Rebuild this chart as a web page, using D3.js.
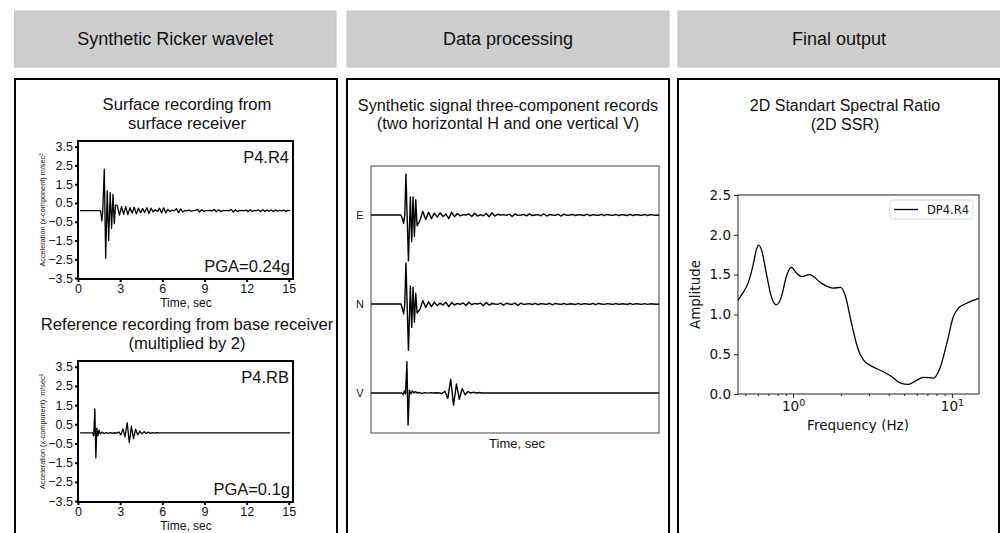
<!DOCTYPE html>
<html>
<head>
<meta charset="UTF-8" />
<title>Synthetic Ricker wavelet - SSR</title>
<script src="https://cdn.jsdelivr.net/npm/d3@7"></script>
<style>
    body { margin: 0; background: #fff; }
    svg text { font-family: 'Liberation Sans', Arial, sans-serif; fill: #111; }
    .mpl text { font-family: 'DejaVu Sans', sans-serif; }
</style>
</head>
<body>
<svg id="fig" width="1000" height="533"></svg>
<script>
// ---- data ----
var headers = ["Synthetic Ricker wavelet", "Data processing", "Final output"];
var timeTicks = [0, 3, 6, 9, 12, 15];
var accTicks = [3.5, 2.5, 1.5, 0.5, -0.5, -1.5, -2.5, -3.5];
var components = ["E", "N", "V"];
var ssrTicks = [0, 0.5, 1, 1.5, 2, 2.5];
var freqMajor = [1, 10];
var freqMinor = [0.5, 0.6, 0.7, 0.8, 0.9, 2, 3, 4, 5, 6, 7, 8, 9];

var tailStep = 0.15;   // sample spacing of the coda, sec

// surface record P4.R4 (m/sec^2)
var surfHead = [[0.15,0.09],[1.6,0.09],[1.66,-0.2],[1.7,-0.45],[1.76,0.05],[1.87,2.3],[1.97,-2.45],[2.08,1.15],[2.18,-1.5],
    [2.29,1.05],[2.39,-0.85],[2.49,0.95],[2.58,-0.6],[2.67,0.4]];
var surfTailStart = 2.8;
var surfTail = [0.35,-0.15,0.3,-0.1,0.32,-0.12,0.25,-0.05,0.28,-0.08,0.22,-0.02,
    0.2,0.0,0.25,-0.06,0.22,0.02,0.14,0.04,0.22,-0.04,0.24,-0.02,
    0.16,0.04,0.12,0.08,0.2,-0.02,0.18,0.02,0.1,0.08,0.12,0.06,
    0.09,0.1,0.16,0.02,0.14,0.05,0.09,0.09,0.1,0.08,0.15,0.03,
    0.14,0.04,0.09,0.09,0.1,0.08,0.16,0.02,0.14,0.05,0.09,0.1,
    0.08,0.12,0.04,0.14,0.05,0.1,0.09,0.13,0.04,0.14,0.05,0.12,
    0.06,0.13,0.05,0.12,0.07,0.1,0.08,0.12,0.05,0.11,0.08];
var surfEnd = [];

// base record P4.RB (x2)
var baseHead = [[0.15,0.05],[1.05,0.05],[1.12,-0.1],[1.2,1.3],[1.27,-1.25],[1.34,0.3],[1.42,-0.1],[1.5,0.2],[1.58,0.0]];
var baseTailStart = 1.7;
var baseTail = [0.09,0.02,0.07,0.03,0.06,0.04,0.06,0.04,0.1,-0.05,0.25,-0.15,0.58,-0.45,0.4,-0.25,
    0.25,-0.05,0.15,0.0,0.12,0.02,0.09,0.03,0.07,0.04,0.06,0.05];
var baseEnd = [[15.1,0.05]];

// three-component synthetic records
var eHead = [[0,0],[1.55,0],[1.62,-0.15],[1.7,-0.46],[1.76,0.0],[1.82,2.28],[1.95,-2.55],[2.05,1.0],[2.12,-1.48],
    [2.19,1.0],[2.26,-1.2],[2.33,0.85],[2.4,-0.6]];
var eTailStart = 2.55;
var eTail = [-0.3,0.2,-0.25,0.15,-0.2,0.1,-0.12,0.12,-0.08,0.05,-0.2,0.15,
    -0.1,0.08,-0.05,0.02,0.0,0.06,-0.08,0.1,-0.06,0.02,-0.04,0.08,
    -0.1,0.12,-0.06,0.04,0.0,0.02,-0.02,0.05,-0.08,0.06,-0.02,0.0,
    0.03,-0.05,0.06,-0.03,0.0,0.02,-0.04,0.07,-0.06,0.03,0.0,-0.02,
    0.04,-0.06,0.05,-0.02,0.0,0.03,-0.03,0.02,0.0,-0.03,0.05,-0.04,
    0.02,0.0,-0.02,0.04,-0.04,0.03,0.0,-0.02,0.03,-0.03,0.02,0.0,
    -0.03,0.04,-0.03,0.02,0.0,-0.02,0.03,-0.03,0.02,0.0,-0.01,0.0];
var eEnd = [[15,0]];

var nHead = [[0,0],[1.55,0],[1.62,-0.2],[1.7,-0.55],[1.76,0.0],[1.82,2.28],[1.95,-2.57],[2.05,1.0],[2.12,-1.3],
    [2.19,0.93],[2.26,-1.0],[2.33,0.6],[2.4,-0.5]];
var nTailStart = 2.55;
var nTail = [-0.3,0.2,-0.2,0.12,-0.15,0.1,-0.08,0.05,-0.06,0.1,-0.15,0.08,
    -0.05,0.03,-0.02,0.06,-0.08,0.1,-0.04,0.03,0.0,0.05,-0.1,0.08,
    -0.06,0.03,0.0,-0.02,0.05,-0.06,0.04,0.0,-0.03,0.06,-0.08,0.05,
    -0.02,0.0,0.02,-0.03,0.04,-0.04,0.02,0.0,-0.02,0.04,-0.05,0.03,
    0.0,-0.02,0.03,-0.03,0.01,0.0,-0.03,0.04,-0.03,0.02,0.0,-0.02,
    0.03,-0.04,0.03,0.0,-0.02,0.02,0.0,-0.03,0.03,-0.02,0.01,0.0,
    -0.02,0.03,-0.03,0.02,0.0,-0.02,0.02,-0.02,0.01,0.0,-0.01,0.0];
var nEnd = [[15,0]];

var vHead = [[0,0],[1.6,0],[1.68,-0.08],[1.74,0.12],[1.8,-0.05],[1.87,1.74],[1.93,-1.78],[2.0,0.15],[2.08,-0.05],
    [2.16,0.12],[2.24,0.0],[2.32,0.08],[2.4,0.0]];
var vTailStart = 2.5;
var vTail = [0.03,-0.02,0.02,-0.01,0.02,0.0,0.01,0.0,-0.03,0.1,-0.3,0.76,-0.67,0.5,-0.35,0.25,-0.1,0.08,
    0.0,0.04,0.0,0.03,0.0];
var vEnd = [[15,0]];

// 2D SSR curve
var ssrFreq = [0.45,0.483,0.52,0.56,0.587,0.607,0.637,0.678,0.73,0.785,0.844,0.908,0.976,1.05,1.13,1.27,1.51,1.79,
    1.99,2.12,2.33,2.57,2.77,3.12,3.7,4.17,4.72,5.32,5.86,6.62,7.66,8.42,9.29,10.2,11.0,12.4,14.8];
var ssrAmp = [1.18,1.27,1.39,1.62,1.81,1.87,1.79,1.52,1.22,1.12,1.22,1.48,1.59,1.52,1.475,1.5,1.39,1.33,
    1.34,1.25,0.89,0.556,0.43,0.35,0.28,0.22,0.14,0.12,0.16,0.21,0.2,0.33,0.64,0.97,1.08,1.14,1.2];

function trace(head, start, tail, end) {
    return head.concat(tail.map(function(a, i) { return [start + i * tailStep, a]; }), end);
}

var svg = d3.select("#fig");

// ---- header boxes and panels ----
var colX = [[14.5, 336], [347, 669], [678, 1001]];
colX.forEach(function(c, i) {
    svg.append("rect").attr("x", c[0]).attr("y", 11).attr("width", c[1] - c[0]).attr("height", 56)
        .attr("fill", "#cecece").attr("stroke", "#c3c3c3");
    svg.append("text").attr("x", (c[0] + Math.min(c[1], 1000)) / 2).attr("y", 45)
        .attr("text-anchor", "middle").attr("font-size", 18).text(headers[i]);
});
var panX = [[15, 337], [347, 669], [678, 999]];
panX.forEach(function(c) {
    svg.append("rect").attr("x", c[0]).attr("y", 79).attr("width", c[1] - c[0]).attr("height", 480)
        .attr("fill", "#fff").attr("stroke", "#000").attr("stroke-width", 2);
});

// ---- left panel: acceleration records ----
function accPlot(top, bottom, title, ylab, pts, name, pga) {
    var x = d3.scaleLinear().domain([0, 15.3]).range([78, 293]);
    var y = d3.scaleLinear().domain([-3.55, 3.8]).range([bottom, top]);
    var g = svg.append("g");

    title.forEach(function(t, i) {
        g.append("text").attr("x", 187).attr("y", top - 31 + i * 18.5)
            .attr("text-anchor", "middle").attr("font-size", 16.6).text(t);
    });

    var line = d3.line().x(function(d) { return x(d[0]); }).y(function(d) { return y(d[1]); });
    g.append("path").datum(pts).attr("d", line).attr("fill", "none")
        .attr("stroke", "#000").attr("stroke-width", 1.3).attr("stroke-linejoin", "round");

    var ya = g.append("g").attr("transform", "translate(78,0)")
        .call(d3.axisLeft(y).tickValues(accTicks).tickSize(3).tickPadding(2).tickFormat(d3.format(".1f")));
    var xa = g.append("g").attr("transform", "translate(0," + bottom + ")")
        .call(d3.axisBottom(x).tickValues(timeTicks).tickSize(3).tickPadding(2));
    [ya, xa].forEach(function(a) {
        a.select(".domain").remove();
        a.selectAll("line").attr("stroke", "#000").attr("stroke-width", 2);
        a.selectAll("text").attr("font-size", 12.5).attr("fill", "#111")
            .style("font-family", "'Liberation Sans', Arial, sans-serif");
    });

    g.append("rect").attr("x", 78).attr("y", top).attr("width", 215).attr("height", bottom - top)
        .attr("fill", "none").attr("stroke", "#000").attr("stroke-width", 2);

    g.append("text").attr("x", 289).attr("y", top + 22).attr("text-anchor", "end")
        .attr("font-size", 16.5).text(name);
    g.append("text").attr("x", 290).attr("y", bottom - 7).attr("text-anchor", "end")
        .attr("font-size", 16.5).text(pga);

    g.append("text").attr("transform", "translate(45," + ((top + bottom) / 2) + ") rotate(-90)")
        .attr("text-anchor", "middle").attr("font-size", 7.3).attr("fill", "#333").text(ylab);
    g.append("text").attr("x", 186).attr("y", bottom + 28).attr("text-anchor", "middle")
        .attr("font-size", 12).text("Time, sec");
}

accPlot(141, 279, ["Surface recording from", "surface receiver"],
    "Acceleration (x-component) m/sec\u00b2", trace(surfHead, surfTailStart, surfTail, surfEnd), "P4.R4", "PGA=0.24g");
accPlot(361, 502, ["Reference recording from base receiver", "(multiplied by 2)"],
    "Acceleration (x-component), m/sec\u00b2", trace(baseHead, baseTailStart, baseTail, baseEnd), "P4.RB", "PGA=0.1g");

// ---- middle panel: three-component records ----
(function() {
    var left = 371, right = 659, top = 166, bottom = 433;
    var g = svg.append("g");
    g.append("text").attr("x", 508).attr("y", 111).attr("text-anchor", "middle").attr("font-size", 16.3)
        .text("Synthetic signal three-component records");
    g.append("text").attr("x", 508).attr("y", 129).attr("text-anchor", "middle").attr("font-size", 16.3)
        .text("(two horizontal H and one vertical V)");

    g.append("rect").attr("x", left).attr("y", top).attr("width", right - left).attr("height", bottom - top)
        .attr("fill", "none").attr("stroke", "#444").attr("stroke-width", 1);

    var x = d3.scaleLinear().domain([0, 15]).range([left, right]);
    var comp = d3.scalePoint().domain(components).range([215, 393]);
    var amp = d3.scaleLinear().domain([-1, 1]).range([18, -18]);
    var recs = {
        E: trace(eHead, eTailStart, eTail, eEnd),
        N: trace(nHead, nTailStart, nTail, nEnd),
        V: trace(vHead, vTailStart, vTail, vEnd)
    };
    components.forEach(function(c) {
        var line = d3.line().x(function(d) { return x(d[0]); })
            .y(function(d) { return comp(c) + amp(d[1]); });
        g.append("path").datum(recs[c]).attr("d", line).attr("fill", "none")
            .attr("stroke", "#000").attr("stroke-width", 1.4).attr("stroke-linejoin", "round");
        g.append("text").attr("x", 360).attr("y", comp(c) + 4).attr("text-anchor", "middle")
            .attr("font-size", 11).text(c);
    });
    g.append("text").attr("x", 517).attr("y", 448).attr("text-anchor", "middle").attr("font-size", 13)
        .text("Time, sec");
})();

// ---- right panel: 2D SSR ----
(function() {
    var left = 738, right = 979, top = 195, bottom = 394;
    var g = svg.append("g").attr("class", "mpl");
    g.append("text").attr("x", 845).attr("y", 111).attr("text-anchor", "middle").attr("font-size", 16)
        .style("font-family", "'Liberation Sans', Arial, sans-serif").text("2D Standart Spectral Ratio");
    g.append("text").attr("x", 845).attr("y", 130).attr("text-anchor", "middle").attr("font-size", 16)
        .style("font-family", "'Liberation Sans', Arial, sans-serif").text("(2D SSR)");

    var x = d3.scaleLog().domain([0.45, 14.8]).range([left, right]);
    var y = d3.scaleLinear().domain([0, 2.5]).range([bottom, top]);

    var line = d3.line().curve(d3.curveMonotoneX)
        .x(function(d) { return x(d); }).y(function(d, i) { return y(ssrAmp[i]); });
    g.append("path").datum(ssrFreq).attr("d", line).attr("fill", "none")
        .attr("stroke", "#000").attr("stroke-width", 1.3);

    var ya = g.append("g").attr("transform", "translate(" + left + ",0)")
        .call(d3.axisLeft(y).tickValues(ssrTicks).tickSize(4).tickPadding(3).tickFormat(d3.format(".1f")));
    var xa = g.append("g").attr("transform", "translate(0," + bottom + ")")
        .call(d3.axisBottom(x).tickValues(freqMajor).tickSize(4).tickPadding(3).tickFormat(function() { return ""; }));
    var xm = g.append("g").attr("transform", "translate(0," + bottom + ")")
        .call(d3.axisBottom(x).tickValues(freqMinor).tickSize(2).tickFormat(function() { return ""; }));
    [ya, xa, xm].forEach(function(a) {
        a.select(".domain").remove();
        a.selectAll("line").attr("stroke", "#222");
        a.selectAll("text").attr("font-size", 13.5).attr("fill", "#222").attr("font-family", null);
    });
    xa.selectAll(".tick text").each(function(d) {
        var t = d3.select(this);
        t.append("tspan").text("10");
        t.append("tspan").attr("dy", -5).attr("font-size", 9.5).text(Math.round(Math.log10(d)));
    });

    g.append("rect").attr("x", left).attr("y", top).attr("width", right - left).attr("height", bottom - top)
        .attr("fill", "none").attr("stroke", "#222").attr("stroke-width", 1);

    g.append("text").attr("transform", "translate(700," + ((top + bottom) / 2) + ") rotate(-90)")
        .attr("text-anchor", "middle").attr("font-size", 13.5).attr("fill", "#222").text("Amplitude");
    g.append("text").attr("x", 858).attr("y", 430).attr("text-anchor", "middle").attr("font-size", 13.5)
        .attr("fill", "#222").text("Frequency (Hz)");

    // legend
    g.append("rect").attr("x", 890).attr("y", 200).attr("width", 83).attr("height", 19).attr("rx", 2.5)
        .attr("fill", "#fff").attr("stroke", "#d8d8d8");
    g.append("line").attr("x1", 894).attr("x2", 918).attr("y1", 209.5).attr("y2", 209.5)
        .attr("stroke", "#000").attr("stroke-width", 1.3);
    g.append("text").attr("x", 927).attr("y", 213.5).attr("font-size", 11.5).attr("fill", "#222").text("DP4.R4");
})();
</script>
</body>
</html>
